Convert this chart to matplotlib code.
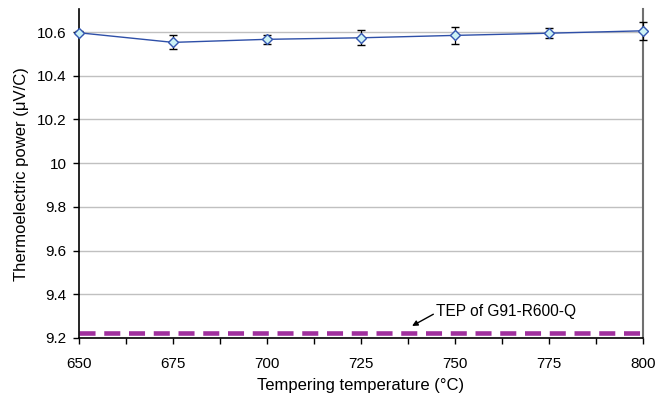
import matplotlib
matplotlib.use("Agg")
import matplotlib.pyplot as plt
from matplotlib.ticker import MultipleLocator

plt.rcParams['font.family'] = ['Liberation Sans', 'DejaVu Sans']

temps = [650, 675, 700, 725, 750, 775, 800]
tep = [10.597, 10.553, 10.567, 10.574, 10.585, 10.595, 10.606]
tep_err = [0.006, 0.032, 0.021, 0.035, 0.038, 0.023, 0.040]
ref_tep = 9.224
ref_label = "TEP of G91-R600-Q"
xticks = [650, 675, 700, 725, 750, 775, 800]
yticks = [9.2, 9.4, 9.6, 9.8, 10.0, 10.2, 10.4, 10.6]
ytick_labels = ["9.2", "9.4", "9.6", "9.8", "10", "10.2", "10.4", "10.6"]

fig = plt.figure(figsize=(6.56, 3.99), dpi=100)
ax = fig.add_axes([0.1204, 0.153, 0.8596, 0.824])

ax.set_xlim(650, 800)
ax.set_ylim(9.2, 10.705)
ax.set_yticks(yticks)
ax.set_yticklabels(ytick_labels)
ax.set_xticks(xticks)
ax.xaxis.set_minor_locator(MultipleLocator(12.5))
ax.grid(axis='y', color='#c0c0c0', linewidth=1.0)
ax.set_axisbelow(True)

ax.axhline(ref_tep, color='#A0309E', linewidth=3.3, dashes=(3.5, 1.9), zorder=2)

ax.errorbar(temps, tep, yerr=tep_err, color='#2E4FA8', linewidth=1.0,
            marker='D', markersize=5.5, markerfacecolor='#CCF2F5',
            markeredgecolor='#3356B0', markeredgewidth=1.0,
            ecolor='black', elinewidth=0.9, capsize=3, capthick=0.9,
            clip_on=False, zorder=3)

ax.annotate(ref_label, xy=(738.6, 9.255), xytext=(745.0, 9.319),
            fontsize=11.2, va='center', ha='left',
            arrowprops=dict(arrowstyle='-|>', color='black', lw=1.0,
                            mutation_scale=8, shrinkA=0, shrinkB=0,
                            relpos=(0.0, 0.45)))

ax.spines['top'].set_visible(False)
ax.spines['right'].set_color('#707070')
ax.spines['right'].set_linewidth(1.5)
ax.spines['left'].set_linewidth(1.2)
ax.spines['bottom'].set_linewidth(1.2)

ax.tick_params(axis='y', which='major', direction='out', length=4,
               labelsize=11, width=1.0, pad=5)
ax.tick_params(axis='x', which='major', direction='out', length=4.5,
               labelsize=11, width=1.0, pad=9)
ax.tick_params(axis='x', which='minor', direction='out', length=4.5, width=1.0)

ax.set_xlabel("Tempering temperature (°C)", fontsize=12, labelpad=5)
ax.set_ylabel("Thermoelectric power (μV/C)", fontsize=12, labelpad=6)

fig.savefig("out.png", dpi=100)
